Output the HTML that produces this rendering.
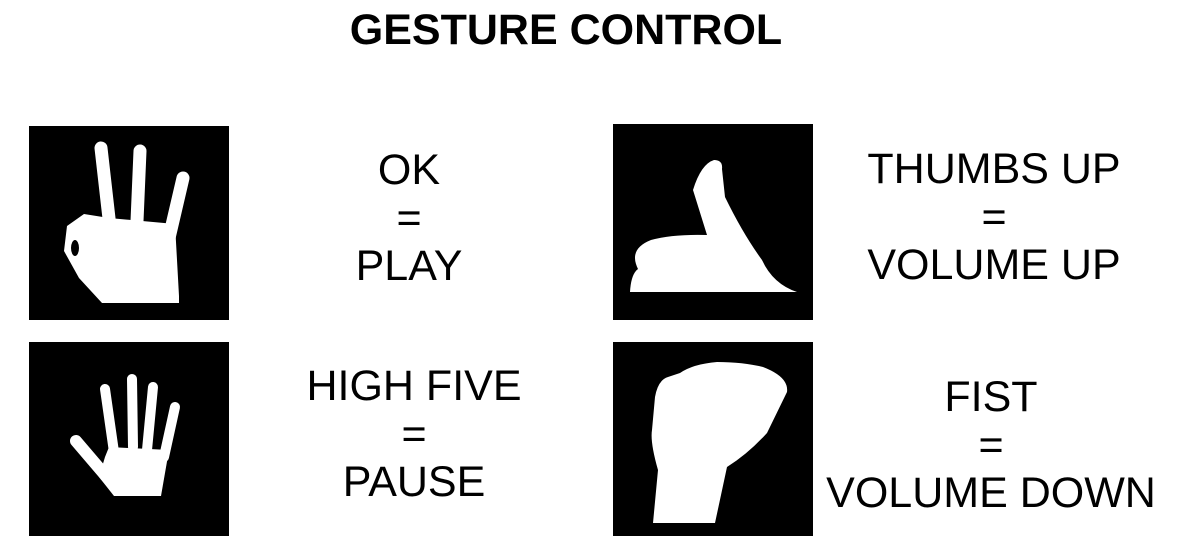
<!DOCTYPE html>
<html><head><meta charset="utf-8"><style>
body{margin:0;width:1188px;height:552px;background:#fff;overflow:hidden;position:relative;font-family:"Liberation Sans",sans-serif}
.t{position:absolute;font-size:43px;color:#000;text-align:center;line-height:48px;width:400px}
.box{position:absolute;width:200px;height:194px;background:#000}
svg{display:block}
</style></head><body>
<div style="position:absolute;left:266px;top:6px;width:600px;text-align:center;font-weight:bold;font-size:43px">GESTURE CONTROL</div>

<div class="box" style="left:29px;top:126px"><svg width="200" height="194" fill="#fff" stroke="#fff">
<g stroke-width="13" stroke-linecap="round"><line x1="72" y1="22" x2="82" y2="110"/><line x1="111" y1="25" x2="108" y2="95"/><line x1="154" y1="52" x2="140" y2="112"/></g>
<polygon stroke="none" points="80,92 146,98 150,170 150,177 73,177 50,152 35,125 38,100 55,88"/>
<ellipse cx="46" cy="122" rx="4" ry="8" fill="#000" stroke="none"/></svg></div>

<div class="box" style="left:29px;top:342px"><svg width="200" height="194" fill="#fff" stroke="#fff">
<g stroke-width="10" stroke-linecap="round"><line x1="76" y1="47" x2="85" y2="110"/><line x1="103" y1="37" x2="104" y2="105"/><line x1="124" y1="45" x2="118" y2="108"/><line x1="146" y1="65" x2="135" y2="115"/><line x1="47" y1="99" x2="82" y2="140" stroke-width="12"/></g>
<polygon stroke="none" points="80,105 140,108 132,154 85,154 70,135 76,115"/></svg></div>

<div class="box" style="left:613px;top:124px;height:196px"><svg width="200" height="196" fill="#fff">
<path d="M101,36 Q110,36 109,45 L112,73 Q130,110 149,136 Q160,160 184,168 L17,168 Q18,150 25,145 Q15,125 38,116 Q60,110 94,111 L80,66 Q88,40 101,36 Z"/></svg></div>

<div class="box" style="left:613px;top:342px"><svg width="200" height="194" fill="#fff">
<path d="M42,55 Q45,38 55,35 L67,31 Q80,22 104,20 Q130,20 150,25 Q176,35 174,50 L154,91 Q135,112 114,125 L102,181 L40,181 L45,128 Q37,100 39,88 Z"/></svg></div>

<div class="t" style="left:209px;top:146px">OK<br>=<br>PLAY</div>
<div class="t" style="left:794px;top:145px">THUMBS UP<br>=<br>VOLUME UP</div>
<div class="t" style="left:214px;top:362px">HIGH FIVE<br>=<br>PAUSE</div>
<div class="t" style="left:791px;top:373px">FIST<br>=<br>VOLUME DOWN</div>
</body></html>
